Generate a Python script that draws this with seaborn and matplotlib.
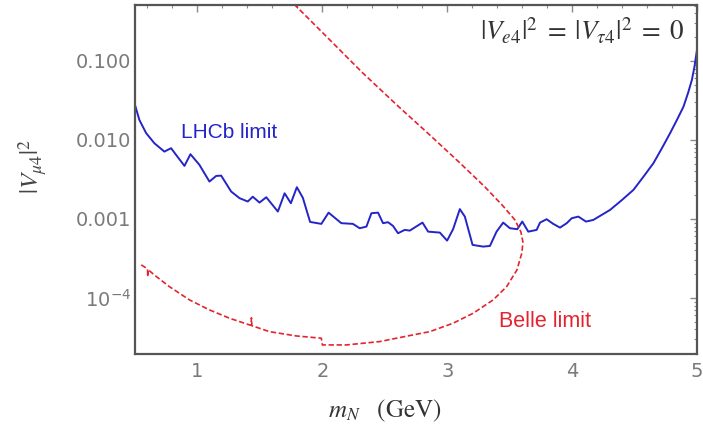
import numpy as np
import pandas as pd
import matplotlib
matplotlib.use("Agg")
import matplotlib.pyplot as plt
import matplotlib.ticker as mticker
import seaborn as sns

# ---- data ----
lhcb_mass = [0.50, 0.535, 0.589, 0.655, 0.735, 0.789, 0.829, 0.896, 0.944, 1.016,
             1.096, 1.150, 1.190, 1.270, 1.337, 1.403, 1.443, 1.497, 1.551, 1.644,
             1.698, 1.748, 1.796, 1.844, 1.902, 1.992, 2.050, 2.152, 2.245, 2.299,
             2.353, 2.393, 2.446, 2.486, 2.526, 2.566, 2.606, 2.660, 2.700, 2.802,
             2.847, 2.941, 2.999, 3.047, 3.101, 3.141, 3.203, 3.288, 3.342, 3.395,
             3.448, 3.502, 3.561, 3.601, 3.649, 3.716, 3.743, 3.796, 3.849, 3.903,
             3.957, 3.997, 4.050, 4.111, 4.170, 4.304, 4.40, 4.491, 4.57, 4.651,
             4.72, 4.785, 4.84, 4.892, 4.93, 4.959, 4.98, 5.0]
lhcb_limit = [0.0277, 0.0179, 0.0122, 0.00908, 0.00711, 0.00785, 0.00646, 0.00469, 0.00659, 0.00483,
              0.00297, 0.00350, 0.00353, 0.00222, 0.00183, 0.00166, 0.00191, 0.00161, 0.00188, 0.00124,
              0.00211, 0.00158, 0.00252, 0.00185, 0.000916, 0.000865, 0.00120, 0.000883, 0.000865, 0.000762,
              0.000799, 0.00118, 0.00120, 0.000883, 0.000908, 0.000815, 0.000659, 0.000726, 0.000711, 0.000898,
              0.000690, 0.000671, 0.000531, 0.000741, 0.00133, 0.00107, 0.000469, 0.000446, 0.000455, 0.000690,
              0.000898, 0.000762, 0.000741, 0.000925, 0.000690, 0.000726, 0.000898, 0.000991, 0.000865, 0.000776,
              0.000883, 0.00102, 0.00107, 0.000925, 0.000971, 0.00130, 0.00174, 0.00233, 0.0034, 0.00507,
              0.0079, 0.0122, 0.018, 0.0264, 0.040, 0.0574, 0.085, 0.138]

belle_mass = [0.55, 0.60, 0.602, 0.605, 0.655, 0.775, 0.936, 1.096, 1.257, 1.417,
              1.430, 1.432, 1.436, 1.577, 1.791, 1.992, 2.000, 2.192, 2.459, 2.684,
              2.860, 3.047, 3.208, 3.368, 3.476, 3.558, 3.598, 3.606, 3.590, 3.542,
              3.446, 3.302, 3.101, 2.860, 2.596, 2.323, 2.059, 1.760]
belle_limit = [2.62e-4, 2.33e-4, 1.85e-4, 2.28e-4, 1.95e-4, 1.39e-4, 9.44e-5, 7.05e-5, 5.53e-5, 4.55e-5,
               4.50e-5, 5.60e-5, 4.45e-5, 3.74e-5, 3.30e-5, 3.09e-5, 2.54e-5, 2.54e-5, 2.80e-5, 3.30e-5,
               3.74e-5, 4.78e-5, 6.40e-5, 9.44e-5, 1.39e-4, 2.26e-4, 3.72e-4, 5.11e-4, 6.84e-4, 9.71e-4,
               1.46e-3, 2.54e-3, 5.12e-3, 1.156e-2, 2.77e-2, 7.05e-2, 0.185, 0.55]

x_ticks = [1, 2, 3, 4, 5]
y_ticks = [0.1, 0.01, 0.001, 1e-4]
y_tick_labels = ["0.100", "0.010", "0.001", r"$\mathregular{10^{-4}}$"]

BLUE = "#2424c8"
RED = "#e5232f"

sns.set_theme(style="white")
plt.rcParams["font.family"] = ["DejaVu Sans"]
plt.rcParams["mathtext.fontset"] = "stix"

fig = plt.figure(figsize=(7.03, 4.26), dpi=100)
ax = fig.add_axes([135 / 703, 1 - 354 / 426, 562 / 703, 349 / 426])

lhcb = pd.DataFrame({"m": lhcb_mass, "v": lhcb_limit})
belle = pd.DataFrame({"m": belle_mass, "v": belle_limit})

sns.lineplot(data=lhcb, x="m", y="v", ax=ax, color=BLUE, lw=1.4,
             estimator=None, sort=False)
sns.lineplot(data=belle, x="m", y="v", ax=ax, color=RED, lw=1.2,
             estimator=None, sort=False)
ax.lines[-1].set_linestyle((0, (3.2, 1.6)))

ax.set_yscale("log")
ax.set_xlim(0.5, 5.0)
ax.set_ylim(1.95e-5, 0.51)

ax.xaxis.set_major_locator(mticker.FixedLocator(x_ticks))
ax.xaxis.set_minor_locator(mticker.MultipleLocator(0.2))
ax.set_xticklabels([str(t) for t in x_ticks])
ax.yaxis.set_major_locator(mticker.FixedLocator(y_ticks))
ax.yaxis.set_minor_locator(mticker.LogLocator(base=10, subs=np.arange(2, 10)))
ax.yaxis.set_minor_formatter(mticker.NullFormatter())
ax.set_yticklabels(y_tick_labels)

tick_gray = "#8a8a8a"
ax.tick_params(axis="both", which="both", direction="in", top=True, right=True,
               color=tick_gray, labelcolor="#7a7a7a", labelsize=14)
ax.tick_params(axis="both", which="major", length=5, width=1.0)
ax.tick_params(axis="both", which="minor", length=2.5, width=0.8)
ax.tick_params(axis="x", which="major", pad=6)
ax.tick_params(axis="y", which="major", pad=3)

for sp in ax.spines.values():
    sp.set_color("#555555")
    sp.set_linewidth(1.6)

ax.set_xlabel(r"$m_N\ \ \ (\mathrm{GeV})$", fontsize=18, color="#333333")
ax.xaxis.set_label_coords(0.445, -0.125)
ax.set_ylabel(r"$|V_{\mu 4}|^2$", fontsize=18, color="#444444")
ax.yaxis.set_label_coords(-0.153, 0.536)

ax.text(1.257, 0.0123, "LHCb limit", color=BLUE, fontsize=15, ha="center", va="center",
        family="Liberation Sans")
ax.text(3.78, 5.1e-5, "Belle limit", color=RED, fontsize=15.5, ha="center", va="center",
        family="Liberation Sans")
ax.text(0.978, 0.925, r"$|V_{e4}|^2\;=\;|V_{\tau 4}|^2\;=\;0$", transform=ax.transAxes,
        fontsize=19.5, ha="right", va="center", color="#333333")

fig.savefig("out.png", dpi=100)
